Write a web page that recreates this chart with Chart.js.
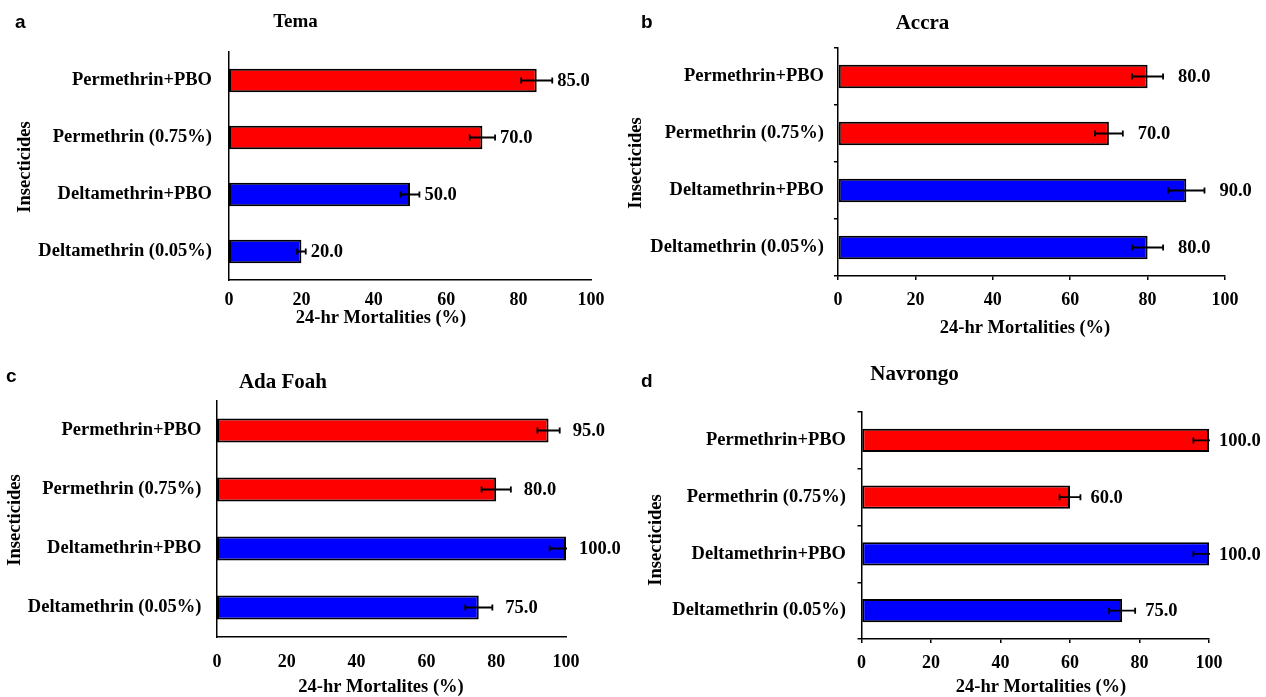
<!DOCTYPE html>
<html>
<head>
<meta charset="utf-8">
<script src="https://cdn.jsdelivr.net/npm/chart.js@4.4.1/dist/chart.umd.min.js"></script>
<style>
  html, body { margin: 0; padding: 0; background: #fff; }
  body { width: 1266px; height: 697px; position: relative; overflow: hidden; }
  .panel { position: absolute; }
</style>
</head>
<body>
<div class="panel" style="left:0;top:0"><canvas id="chartA" width="620" height="350"></canvas></div>
<div class="panel" style="left:620px;top:0"><canvas id="chartB" width="646" height="350"></canvas></div>
<div class="panel" style="left:0;top:350px"><canvas id="chartC" width="620" height="347"></canvas></div>
<div class="panel" style="left:620px;top:350px"><canvas id="chartD" width="646" height="347"></canvas></div>
<script>
/* ---------- data ---------- */
const insecticides = ['Permethrin+PBO', 'Permethrin (0.75%)', 'Deltamethrin+PBO', 'Deltamethrin (0.05%)'];
const barColors    = ['#ff0000', '#ff0000', '#0000ff', '#0000ff'];
const xTickValues  = [0, 20, 40, 60, 80, 100];

const temaMortality     = [85, 70, 50, 20];
const temaError         = [4.3, 3.5, 2.6, 1.2];
const accraMortality    = [80, 70, 90, 80];
const accraError        = [4.0, 3.6, 4.7, 4.0];
const adaFoahMortality  = [95, 80, 100, 75];
const adaFoahError      = [3.2, 4.2, 4.7, 3.9];
const navrongoMortality = [100, 60, 100, 75];
const navrongoError     = [4.5, 3.0, 4.5, 3.75];

/* ---------- defaults ---------- */
const SERIF = '"Liberation Serif", "Times New Roman", serif';
Chart.defaults.font.family = SERIF;
Chart.defaults.font.weight = 'bold';
Chart.defaults.color = '#000';
Chart.defaults.devicePixelRatio = 1;

/* error bars + value labels */
const errorBars = {
  id: 'errorBars',
  afterDatasetsDraw(chart, args, opts) {
    const ds = chart.data.datasets[0];
    const meta = chart.getDatasetMeta(0);
    const xs = chart.scales.x;
    const area = chart.chartArea;
    const ctx = chart.ctx;
    meta.data.forEach((bar, i) => {
      const v = ds.data[i], e = ds.errors[i];
      const lo = xs.getPixelForValue(v - e);
      const hi = xs.getPixelForValue(v + e);
      ctx.save();
      ctx.beginPath();
      ctx.rect(area.left, area.top, area.right - area.left + 1, area.bottom - area.top);
      ctx.clip();
      ctx.strokeStyle = '#000';
      ctx.lineWidth = 1.8;
      ctx.beginPath();
      ctx.moveTo(lo, bar.y); ctx.lineTo(hi, bar.y);
      ctx.moveTo(lo, bar.y - 3); ctx.lineTo(lo, bar.y + 3);
      ctx.moveTo(hi, bar.y - 3); ctx.lineTo(hi, bar.y + 3);
      ctx.stroke();
      ctx.restore();

      ctx.save();
      ctx.fillStyle = '#000';
      ctx.font = 'bold 18.5px ' + SERIF;
      ctx.textAlign = 'left';
      ctx.textBaseline = 'middle';
      ctx.fillText(v.toFixed(1), Math.min(hi, area.right) + opts.gap, bar.y + 1);
      ctx.restore();
    });
  }
};

/* panel letter + axis titles (placed where the original figure has them) */
const panelText = {
  id: 'panelText',
  afterDraw(chart, args, o) {
    const ctx = chart.ctx;
    ctx.save();
    ctx.fillStyle = '#000';
    ctx.textBaseline = 'middle';
    ctx.font = 'bold 19px "Liberation Sans", Arial, sans-serif';
    ctx.textAlign = 'left';
    ctx.fillText(o.letter, o.letterX, o.letterY);

    ctx.font = 'bold 18.5px ' + SERIF;
    ctx.textAlign = 'center';
    ctx.fillText(o.xTitle, o.xTitleX, o.xTitleY);

    ctx.translate(o.yTitleX, o.yTitleY);
    ctx.rotate(-Math.PI / 2);
    ctx.fillText('Insecticides', 0, 0);
    ctx.restore();
  }
};

function makePanel(id, p) {
  const tickGrid = p.ticks
    ? { display: true, drawOnChartArea: false, drawTicks: true, tickLength: 4, color: '#000', lineWidth: 1.5 }
    : { display: false, drawTicks: false };
  return new Chart(document.getElementById(id), {
    type: 'bar',
    data: {
      labels: insecticides,
      datasets: [{
        data: p.values,
        errors: p.errors,
        backgroundColor: barColors,
        borderColor: '#000',
        borderWidth: 2,
        borderSkipped: false,
        barPercentage: 0.41,
        categoryPercentage: 1
      }]
    },
    options: {
      indexAxis: 'y',
      responsive: false,
      animation: false,
      layout: { padding: { left: 0, top: 0, bottom: 0, right: p.right } },
      plugins: {
        legend: { display: false },
        tooltip: { enabled: false },
        title: {
          display: true,
          text: p.title,
          font: { size: p.titleSize, weight: 'bold' },
          padding: { top: p.titleTop, bottom: p.titleBottom }
        },
        errorBars: { gap: p.gap },
        panelText: p.text
      },
      scales: {
        x: {
          min: 0, max: 100,
          afterBuildTicks: s => { s.ticks = xTickValues.map(v => ({ value: v })); },
          afterFit: s => { s.height = p.xHeight; },
          grid: tickGrid,
          border: { display: true, color: '#000', width: 1.5 },
          ticks: { font: { size: 18 }, padding: p.xTickPad, maxRotation: 0 }
        },
        y: {
          afterFit: s => { s.width = p.yWidth; },
          grid: tickGrid,
          border: { display: true, color: '#000', width: 1.5 },
          ticks: { font: { size: 18.5 }, padding: p.yTickPad }
        }
      }
    },
    plugins: [errorBars, panelText]
  });
}

makePanel('chartA', {
  title: 'Tema', titleSize: 19, titleTop: 10.6, titleBottom: 18.6,
  values: temaMortality, errors: temaError, ticks: false,
  right: 29, xHeight: 70, xTickPad: 10, yWidth: 229, yTickPad: 17, gap: 5,
  text: { letter: 'a', letterX: 15, letterY: 23, xTitle: '24-hr Mortalities (%)', xTitleX: 381, xTitleY: 318, yTitleX: 25, yTitleY: 167 }
});
makePanel('chartB', {
  title: 'Accra', titleSize: 21, titleTop: 11.4, titleBottom: 11.4,
  values: accraMortality, errors: accraError, ticks: true,
  right: 41, xHeight: 74, xTickPad: 10, yWidth: 218, yTickPad: 10, gap: 15,
  text: { letter: 'b', letterX: 21, letterY: 23, xTitle: '24-hr Mortalities (%)', xTitleX: 405, xTitleY: 328, yTitleX: 16, yTitleY: 163 }
});
makePanel('chartC', {
  title: 'Ada Foah', titleSize: 21, titleTop: 20.4, titleBottom: 5.4,
  values: adaFoahMortality, errors: adaFoahError, ticks: false,
  right: 54, xHeight: 60, xTickPad: 15, yWidth: 217, yTickPad: 15.5, gap: 13,
  text: { letter: 'c', letterX: 6, letterY: 27, xTitle: '24-hr Mortalites (%)', xTitleX: 381, xTitleY: 337, yTitleX: 15, yTitleY: 170 }
});
makePanel('chartD', {
  title: 'Navrongo', titleSize: 21, titleTop: 12.4, titleBottom: 24.4,
  values: navrongoMortality, errors: navrongoError, ticks: true,
  right: 57, xHeight: 58, xTickPad: 10, yWidth: 241.5, yTickPad: 11.5, gap: 10,
  text: { letter: 'd', letterX: 21, letterY: 32, xTitle: '24-hr Mortalities (%)', xTitleX: 421, xTitleY: 337, yTitleX: 36.5, yTitleY: 190 }
});
</script>
</body>
</html>
